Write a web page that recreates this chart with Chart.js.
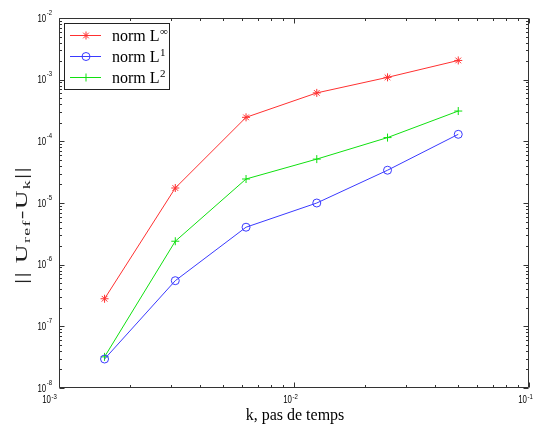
<!DOCTYPE html>
<html>
<head>
<meta charset="utf-8">
<script src="https://cdn.jsdelivr.net/npm/chart.js@4/dist/chart.umd.min.js"></script>
<style>
html,body{margin:0;padding:0;background:#fff;}
canvas{display:block;}
</style>
</head>
<body>
<canvas id="c" width="535" height="433"></canvas>
<script>
// ---- data ----
const stepK   = [0.0015625, 0.003125, 0.00625, 0.0125, 0.025, 0.05];
const normInf = [2.8e-7, 1.75e-5, 2.45e-4, 6.1e-4, 1.09e-3, 2.05e-3];
const normL1  = [2.95e-8, 5.5e-7, 4.05e-6, 1.0e-5, 3.4e-5, 1.3e-4];
const normL2  = [3.2e-8, 2.4e-6, 2.45e-5, 5.15e-5, 1.15e-4, 3.1e-4];
const xDecades = [-3, -2, -1];
const yDecades = [-8, -7, -6, -5, -4, -3, -2];
const seriesNames = ['norm L', 'norm L', 'norm L'];
const seriesSups  = ['\u221E', '1', '2'];
const xTitle = 'k, pas de temps';

const RED = '#ff3030', BLUE = '#3a3aff', GREEN = '#10e010';

function pts(ys){ return stepK.map((x,i)=>({x:x, y:ys[i]})); }

function drawMarker(ctx, style, x, y, r, color){
  ctx.save();
  ctx.strokeStyle = color; ctx.lineWidth = 1;
  ctx.beginPath();
  if (style === 'circle'){
    ctx.arc(x, y, r, 0, Math.PI*2);
  } else if (style === 'cross'){
    ctx.moveTo(x-r, y); ctx.lineTo(x+r, y);
    ctx.moveTo(x, y-r); ctx.lineTo(x, y+r);
  } else if (style === 'star'){
    ctx.moveTo(x-r, y); ctx.lineTo(x+r, y);
    ctx.moveTo(x, y-r); ctx.lineTo(x, y+r);
    const d = r*0.707;
    ctx.moveTo(x-d, y-d); ctx.lineTo(x+d, y+d);
    ctx.moveTo(x-d, y+d); ctx.lineTo(x+d, y-d);
  }
  ctx.stroke();
  ctx.restore();
}

function drawCondensed(ctx, text, x, y, font, sx){
  ctx.save();
  ctx.font = font;
  ctx.translate(x, y);
  ctx.scale(sx, 1);
  ctx.fillText(text, 0, 0);
  ctx.restore();
}

const matlabAxes = {
  id: 'matlabAxes',
  afterDraw(chart){
    const ctx = chart.ctx, ca = chart.chartArea;
    const xs = chart.scales.x, ys = chart.scales.y;
    const L = Math.round(ca.left)+0.5, R = Math.round(ca.right)-0.5;
    const T = Math.round(ca.top)+0.5, B = Math.round(ca.bottom)-0.5;
    ctx.save();
    ctx.strokeStyle = '#333';
    ctx.lineWidth = 1;
    ctx.beginPath();
    ctx.rect(L, T, R-L, B-T);
    ctx.stroke();
    // ticks
    ctx.beginPath();
    const maj = 5, mnr = 2.5;
    xDecades.forEach((d, di) => {
      for (let m = 1; m <= 9; m++){
        if (m > 1 && di === xDecades.length-1) break;
        const v = m * Math.pow(10, d);
        const px = Math.round(xs.getPixelForValue(v)) + 0.5;
        const len = m === 1 ? maj : mnr;
        ctx.moveTo(px, B); ctx.lineTo(px, B-len);
        ctx.moveTo(px, T); ctx.lineTo(px, T+len);
      }
    });
    yDecades.forEach((d, di) => {
      for (let m = 1; m <= 9; m++){
        if (m > 1 && di === yDecades.length-1) break;
        const v = m * Math.pow(10, d);
        const py = Math.round(ys.getPixelForValue(v)) + 0.5;
        const len = m === 1 ? maj : mnr;
        ctx.moveTo(L, py); ctx.lineTo(L+len, py);
        ctx.moveTo(R, py); ctx.lineTo(R-len, py);
      }
    });
    ctx.stroke();

    // tick labels
    ctx.fillStyle = '#000';
    ctx.textBaseline = 'alphabetic';
    ctx.textAlign = 'left';
    const baseFont = '10.5px "Liberation Sans", Arial, sans-serif';
    const expFont = '7.5px "Liberation Sans", Arial, sans-serif';
    const sx = 0.75, sxe = 0.8;
    ctx.font = baseFont; const w10 = ctx.measureText('10').width * sx;
    xDecades.forEach((d, i) => {
      const px = xs.getPixelForValue(Math.pow(10, d));
      let x0 = px - 2 - w10;
      if (i === 0) x0 -= 6;
      drawCondensed(ctx, '10', x0, ca.bottom + 15, baseFont, sx);
      drawCondensed(ctx, String(d), x0 + w10 + 0.5, ca.bottom + 10.5, expFont, sxe);
    });
    yDecades.forEach((d) => {
      const py = ys.getPixelForValue(Math.pow(10, d));
      ctx.font = expFont;
      const we = ctx.measureText(String(d)).width * sxe;
      const xe = ca.left - 7 - we;
      drawCondensed(ctx, '10', xe - 0.5 - w10, py + 3.5, baseFont, sx);
      drawCondensed(ctx, String(d), xe, py - 3.5, expFont, sxe);
    });

    // x title
    ctx.font = '16px "Liberation Serif", "Times New Roman", serif';
    ctx.textAlign = 'center';
    ctx.fillText(xTitle, (ca.left + ca.right)/2 + 1, ca.bottom + 32);

    // y title  || U_ref-U_k||  (long and thin, as in the reference)
    const parts = [
      {t:'|| U', sub:false}, {t:'ref', sub:true}, {t:'-U', sub:false},
      {t:'k', sub:true}, {t:'||', sub:false}
    ];
    const mainF = '16px "Liberation Serif", "Times New Roman", serif';
    const subF = '11px "Liberation Serif", "Times New Roman", serif';
    ctx.save();
    ctx.letterSpacing = '0.8px';
    let total = 0;
    parts.forEach(p => { ctx.font = p.sub ? subF : mainF; p.w = ctx.measureText(p.t).width; total += p.w; });
    const stretch = 118 / total;
    ctx.translate(26.5, 225);
    ctx.rotate(-Math.PI/2);
    ctx.scale(stretch, 1);
    ctx.textAlign = 'left';
    ctx.fillStyle = '#222';
    let cx = -total/2;
    parts.forEach(p => {
      ctx.font = p.sub ? subF : mainF;
      ctx.fillText(p.t, cx, p.sub ? 3 : 0);
      cx += p.w;
    });
    ctx.restore();

    // legend
    const lx = 64.5, ly = 23.5, lw = 105, lh = 66;
    ctx.fillStyle = '#fff';
    ctx.fillRect(lx, ly, lw, lh);
    ctx.strokeStyle = '#222';
    ctx.strokeRect(lx, ly, lw, lh);
    const rowsY = [35.5, 56.5, 77.5];
    chart.data.datasets.forEach((ds, i) => {
      const y = rowsY[i];
      ctx.strokeStyle = ds.borderColor; ctx.lineWidth = 1;
      ctx.beginPath(); ctx.moveTo(70, y); ctx.lineTo(101, y); ctx.stroke();
      drawMarker(ctx, ds.pointStyle, 86, y, ds.pointRadius, ds.borderColor);
      ctx.fillStyle = '#000';
      ctx.textAlign = 'left';
      ctx.font = mainF;
      ctx.fillText(seriesNames[i], 112, y + 5.5);
      const wn = ctx.measureText(seriesNames[i]).width;
      ctx.font = '11px "Liberation Serif", "Times New Roman", serif';
      ctx.fillText(seriesSups[i], 112 + wn + 0.5, y - 0.5);
    });
    ctx.restore();
  }
};

const chart = new Chart(document.getElementById('c'), {
  type: 'line',
  data: {
    datasets: [
      {label:'norm L\u221E', data: pts(normInf), borderColor: RED, backgroundColor: 'transparent',
       pointStyle:'star', pointRadius:4, pointBorderColor: RED, borderWidth:1, pointBorderWidth:1},
      {label:'norm L1', data: pts(normL1), borderColor: BLUE, backgroundColor: 'transparent',
       pointStyle:'circle', pointRadius:4, pointBorderColor: BLUE, borderWidth:1, pointBorderWidth:1},
      {label:'norm L2', data: pts(normL2), borderColor: GREEN, backgroundColor: 'transparent',
       pointStyle:'cross', pointRadius:4, pointBorderColor: GREEN, borderWidth:1, pointBorderWidth:1}
    ]
  },
  options: {
    responsive: false,
    animation: false,
    devicePixelRatio: 1,
    layout: { padding: { left: 59, top: 18, right: 6, bottom: 45 } },
    plugins: { legend: { display: false }, tooltip: { enabled: false } },
    elements: { line: { tension: 0 } },
    scales: {
      x: { type: 'logarithmic', min: 1e-3, max: 1e-1, display: false },
      y: { type: 'logarithmic', min: 1e-8, max: 1e-2, display: false }
    }
  },
  plugins: [matlabAxes]
});
</script>
</body>
</html>
